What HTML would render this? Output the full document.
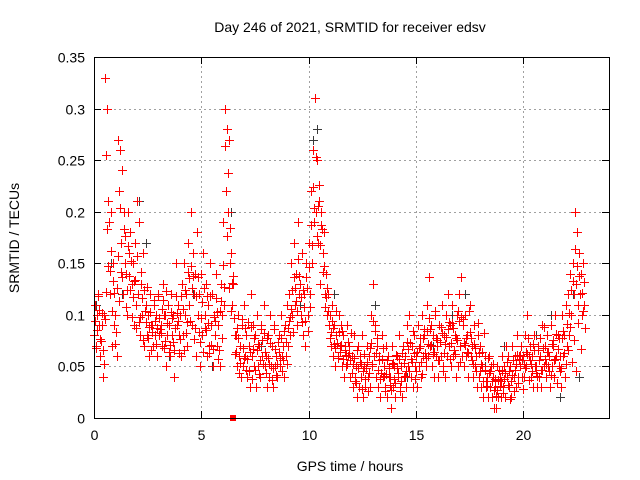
<!DOCTYPE html>
<html><head><meta charset="utf-8"><style>
body{margin:0;background:#fff;}
svg{display:block;font-family:"Liberation Sans",sans-serif;}
</style></head><body>
<svg id="chart" width="640" height="480" viewBox="0 0 640 480" xmlns="http://www.w3.org/2000/svg">
<text x="350" y="32" font-size="14" text-anchor="middle" fill="#000">Day 246 of 2021, SRMTID for receiver edsv</text>
<text x="350" y="471" font-size="14" text-anchor="middle" fill="#000">GPS time / hours</text>
<text x="19" y="238" font-size="14" text-anchor="middle" fill="#000" transform="rotate(-90 19 238)">SRMTID / TECUs</text>
<g id="grid"></g>
<g id="axes"></g>
<g id="marks" shape-rendering="crispEdges"></g>
<rect x="94.5" y="57.5" width="515" height="361" fill="none" stroke="#000" stroke-width="1"/>
</svg>
<script>
const xTicks=[0,5,10,15,20];
const yTicks=[0,0.05,0.1,0.15,0.2,0.25,0.3,0.35];
const yTickLabels=["0","0.05","0.1","0.15","0.2","0.25","0.3","0.35"];
const redT=[0.0,0.1,0.2,0.3,0.4,0.5,0.6,0.7,0.8,0.9,1.0,1.1,1.2,1.3,1.4,1.5,1.6,1.7,1.8,1.9,2.0,2.1,2.2,2.3,2.4,2.5,2.6,2.7,2.8,2.9,3.0,3.1,3.2,3.3,3.4,3.5,3.6,3.7,3.8,3.9,4.0,4.1,4.2,4.3,4.4,4.5,4.6,4.7,4.8,4.9,5.0,5.1,5.2,5.3,5.4,5.5,5.6,5.7,5.8,5.9,6.0,6.1,6.2,6.3,6.4,6.5,6.6,6.7,6.8,6.9,7.0,7.1,7.2,7.3,7.4,7.5,7.6,7.7,7.8,7.9,8.0,8.1,8.2,8.3,8.4,8.5,8.6,8.7,8.8,8.9,9.0,9.1,9.2,9.3,9.4,9.5,9.6,9.7,9.8,9.9,10.0,10.1,10.2,10.3,10.4,10.5,10.6,10.7,10.8,10.9,11.0,11.1,11.2,11.3,11.4,11.5,11.6,11.7,11.8,11.9,12.0,12.1,12.2,12.3,12.4,12.5,12.6,12.7,12.8,12.9,13.0,13.1,13.2,13.3,13.4,13.5,13.6,13.7,13.8,13.9,14.0,14.1,14.2,14.3,14.4,14.5,14.6,14.7,14.8,14.9,15.0,15.1,15.2,15.3,15.4,15.5,15.6,15.7,15.8,15.9,16.0,16.1,16.2,16.3,16.4,16.5,16.6,16.7,16.8,16.9,17.0,17.1,17.2,17.3,17.4,17.5,17.6,17.7,17.8,17.9,18.0,18.1,18.2,18.3,18.4,18.5,18.6,18.7,18.8,18.9,19.0,19.1,19.2,19.3,19.4,19.5,19.6,19.7,19.8,19.9,20.0,20.1,20.2,20.3,20.4,20.5,20.6,20.7,20.8,20.9,21.0,21.1,21.2,21.3,21.4,21.5,21.6,21.7,21.8,21.9,22.0,22.1,22.2,22.3,22.4,22.5,22.6,22.7,22.8];
const redA=[0.08,0.07,0.12,0.06,0.04,0.33,0.30,0.19,0.2,0.15,0.1,0.27,0.26,0.24,0.2,0.14,0.2,0.18,0.15,0.17,0.21,0.19,0.13,0.16,0.11,0.1,0.12,0.09,0.11,0.1,0.12,0.09,0.13,0.1,0.08,0.09,0.12,0.1,0.15,0.11,0.1,0.13,0.15,0.12,0.17,0.2,0.16,0.14,0.18,0.12,0.14,0.16,0.13,0.11,0.15,0.12,0.1,0.14,0.09,0.13,0.19,0.3,0.28,0.27,0.16,0.13,0.08,0.1,0.07,0.09,0.11,0.08,0.07,0.12,0.09,0.08,0.1,0.07,0.09,0.11,0.06,0.08,0.1,0.07,0.09,0.06,0.08,0.1,0.07,0.09,0.11,0.12,0.15,0.17,0.14,0.19,0.13,0.16,0.12,0.15,0.17,0.22,0.26,0.31,0.25,0.21,0.2,0.18,0.14,0.12,0.1,0.11,0.09,0.08,0.1,0.09,0.08,0.07,0.09,0.07,0.06,0.08,0.05,0.07,0.06,0.08,0.05,0.07,0.06,0.1,0.13,0.09,0.07,0.06,0.08,0.05,0.07,0.06,0.04,0.07,0.05,0.06,0.08,0.05,0.07,0.06,0.09,0.1,0.07,0.08,0.06,0.09,0.07,0.1,0.08,0.11,0.137,0.09,0.08,0.1,0.07,0.09,0.11,0.08,0.1,0.12,0.09,0.11,0.08,0.1,0.12,0.137,0.09,0.1,0.08,0.11,0.07,0.09,0.06,0.08,0.07,0.05,0.06,0.04,0.06,0.05,0.04,0.03,0.05,0.04,0.06,0.05,0.07,0.06,0.05,0.07,0.06,0.08,0.06,0.07,0.06,0.08,0.1,0.07,0.06,0.08,0.05,0.07,0.06,0.09,0.07,0.08,0.06,0.09,0.07,0.1,0.08,0.06,0.1,0.08,0.11,0.12,0.14,0.15,0.2,0.18,0.16,0.14,0.15];
const redB=[0.11,0.1,0.09,0.09,0.1,0.255,0.21,0.12,0.07,0.09,0.06,0.22,0.17,0.12,0.15,0.1,0.16,0.13,0.09,0.11,0.12,0.08,0.1,0.07,0.08,0.06,0.09,0.07,0.08,0.06,0.08,0.07,0.1,0.05,0.11,0.06,0.08,0.04,0.09,0.08,0.06,0.08,0.1,0.07,0.11,0.09,0.12,0.06,0.1,0.05,0.08,0.1,0.06,0.07,0.09,0.05,0.08,0.07,0.05,0.1,0.11,0.22,0.2,0.15,0.11,0.08,0.05,0.06,0.04,0.05,0.06,0.04,0.03,0.06,0.05,0.03,0.05,0.04,0.06,0.05,0.03,0.04,0.05,0.03,0.05,0.04,0.05,0.06,0.04,0.06,0.07,0.08,0.1,0.11,0.09,0.12,0.1,0.08,0.07,0.1,0.12,0.15,0.19,0.2,0.17,0.13,0.16,0.12,0.1,0.09,0.07,0.06,0.05,0.06,0.07,0.05,0.04,0.05,0.06,0.04,0.03,0.04,0.02,0.03,0.04,0.02,0.03,0.04,0.03,0.05,0.06,0.04,0.03,0.02,0.04,0.03,0.02,0.04,0.01,0.03,0.02,0.04,0.03,0.02,0.04,0.03,0.05,0.04,0.03,0.05,0.03,0.05,0.04,0.06,0.05,0.06,0.07,0.05,0.04,0.06,0.04,0.06,0.05,0.04,0.06,0.07,0.05,0.06,0.04,0.05,0.07,0.06,0.05,0.06,0.04,0.06,0.04,0.05,0.03,0.04,0.03,0.02,0.03,0.02,0.03,0.02,0.01,0.01,0.02,0.02,0.03,0.02,0.04,0.03,0.02,0.04,0.03,0.04,0.05,0.04,0.04,0.05,0.06,0.04,0.03,0.05,0.03,0.04,0.03,0.05,0.04,0.05,0.03,0.05,0.04,0.06,0.05,0.03,0.06,0.04,0.07,0.08,0.1,0.12,0.13,0.11,0.12,0.1,0.11];
const redC=[0.094,0.085,0.105,0.075,0.066,0.096,0.183,0.143,0.104,0.121,0.083,0.157,0.204,0.137,0.176,0.124,0.138,0.152,0.117,0.134,0.157,0.098,0.116,0.124,0.093,0.078,0.103,0.083,0.094,0.087,0.097,0.082,0.114,0.075,0.092,0.071,0.097,0.066,0.118,0.094,0.077,0.106,0.124,0.093,0.136,0.147,0.138,0.087,0.137,0.074,0.112,0.126,0.085,0.092,0.118,0.067,0.094,0.103,0.066,0.113,0.148,0.264,0.238,0.184,0.131,0.097,0.064,0.078,0.053,0.068,0.087,0.057,0.046,0.088,0.067,0.047,0.072,0.056,0.076,0.082,0.044,0.058,0.073,0.048,0.067,0.052,0.064,0.078,0.056,0.074,0.087,0.098,0.124,0.137,0.113,0.154,0.117,0.124,0.094,0.126,0.146,0.187,0.224,0.253,0.206,0.168,0.183,0.147,0.117,0.104,0.083,0.087,0.068,0.073,0.083,0.071,0.057,0.061,0.074,0.056,0.044,0.058,0.034,0.048,0.052,0.046,0.038,0.054,0.044,0.073,0.094,0.063,0.047,0.038,0.057,0.041,0.043,0.048,0.027,0.053,0.034,0.048,0.057,0.036,0.053,0.046,0.067,0.073,0.054,0.063,0.046,0.068,0.054,0.078,0.063,0.084,0.097,0.071,0.064,0.078,0.056,0.074,0.082,0.063,0.079,0.093,0.073,0.087,0.062,0.076,0.094,0.098,0.073,0.078,0.063,0.083,0.056,0.072,0.046,0.063,0.052,0.036,0.047,0.031,0.044,0.036,0.027,0.021,0.037,0.031,0.046,0.038,0.054,0.046,0.036,0.056,0.047,0.061,0.057,0.056,0.052,0.064,0.078,0.056,0.046,0.066,0.041,0.056,0.047,0.068,0.057,0.064,0.046,0.072,0.056,0.081,0.067,0.046,0.078,0.063,0.091,0.102,0.124,0.133,0.164,0.147,0.138,0.121,0.132];
const redD=[0.068,0.118,0.077,0.102,0.052,0.122,0.147,0.162,0.133,0.072,0.126,0.113,0.142,0.183,0.108,0.167,0.124,0.098,0.133,0.087,0.093,0.142,0.076,0.104,0.127,0.088,0.066,0.114,0.072,0.118,0.086,0.106,0.068,0.123,0.064,0.103,0.074,0.087,0.102,0.063,0.118,0.066,0.082,0.142,0.094,0.126,0.077,0.118,0.083,0.097,0.064,0.087,0.118,0.063,0.071,0.098,0.116,0.057,0.104,0.078,0.127,0.176,0.126,0.104,0.138,0.062,0.087,0.044,0.096,0.058,0.047,0.093,0.064,0.038,0.078,0.066,0.043,0.086,0.052,0.064,0.078,0.052,0.037,0.086,0.042,0.074,0.058,0.046,0.084,0.052,0.094,0.106,0.083,0.126,0.104,0.138,0.093,0.108,0.137,0.084,0.108,0.168,0.204,0.176,0.226,0.187,0.142,0.108,0.126,0.078,0.094,0.072,0.104,0.058,0.064,0.084,0.066,0.052,0.063,0.082,0.052,0.036,0.066,0.054,0.028,0.062,0.048,0.026,0.068,0.052,0.084,0.078,0.056,0.044,0.068,0.026,0.056,0.032,0.052,0.038,0.061,0.044,0.026,0.063,0.041,0.074,0.046,0.057,0.084,0.038,0.064,0.078,0.043,0.086,0.058,0.072,0.086,0.062,0.104,0.076,0.056,0.088,0.046,0.072,0.086,0.057,0.092,0.066,0.078,0.104,0.054,0.096,0.071,0.064,0.104,0.078,0.052,0.068,0.092,0.046,0.064,0.082,0.036,0.058,0.046,0.052,0.038,0.027,0.047,0.036,0.024,0.044,0.032,0.018,0.042,0.026,0.052,0.034,0.061,0.028,0.048,0.062,0.037,0.052,0.072,0.044,0.066,0.078,0.047,0.088,0.052,0.064,0.042,0.076,0.057,0.034,0.078,0.048,0.084,0.052,0.066,0.088,0.054,0.076,0.046,0.092,0.067,0.104,0.087,0.117,0.142,0.125,0.152,0.128,0.104,0.126];
const grayT=[0.1,0.8,1.3,2.1,2.4,3.5,4.6,5.5,6.4,7.8,8.9,9.6,10.2,10.4,11.2,12.5,13.1,14.6,15.1,15.8,16.7,17.3,18.2,19.1,20.6,21.3,21.7,22.3,22.6];
const grayV=[0.11,0.15,0.12,0.21,0.17,0.06,0.12,0.05,0.2,0.07,0.09,0.11,0.27,0.28,0.12,0.08,0.11,0.04,0.09,0.07,0.1,0.12,0.05,0.07,0.08,0.1,0.02,0.12,0.04];
const specialT=[6.5];
const specialV=[0];

const X0=94,X1=609,Y0=418,Y1=57,XMAX=24,YMAX=0.35;
function xs(t){return X0+(X1-X0)*t/XMAX;}
function ys(v){return Y0-(Y0-Y1)*v/YMAX;}
const NS='http://www.w3.org/2000/svg';
function mk(tag,attrs,parent){const e=document.createElementNS(NS,tag);for(const k in attrs)e.setAttribute(k,attrs[k]);parent.appendChild(e);return e;}
const grid=document.getElementById('grid'),axes=document.getElementById('axes'),marks=document.getElementById('marks');
yTicks.forEach((v,i)=>{
  const y=Math.round(ys(v))+0.5;
  if(i>0&&i<yTicks.length-1){const g=mk('line',{x1:X0,x2:X1,y1:y,y2:y,stroke:'#a0a0a0','stroke-dasharray':'2,3'},grid);
  
  }
  mk('line',{x1:X0,x2:X0+7,y1:y,y2:y,stroke:'#000'},axes);
  mk('line',{x1:X1-7,x2:X1,y1:y,y2:y,stroke:'#000'},axes);
  const t=mk('text',{x:X0-9,y:y+5,'font-size':14,'text-anchor':'end',fill:'#000'},axes);
  t.textContent=yTickLabels[i];
  
  
});
xTicks.forEach(v=>{
  const x=Math.round(xs(v))+0.5;
  if(v>0){const g=mk('line',{x1:x,x2:x,y1:Y0,y2:Y1,stroke:'#a0a0a0','stroke-dasharray':'2,3'},grid);
  
  }
  mk('line',{x1:x,x2:x,y1:Y0,y2:Y0-7,stroke:'#000'},axes);
  mk('line',{x1:x,x2:x,y1:Y1,y2:Y1+7,stroke:'#000'},axes);
  const t=mk('text',{x:x,y:Y0+22,'font-size':14,'text-anchor':'middle',fill:'#000'},axes);
  t.textContent=String(v);
  
  
});
function plus(t,v,color,name){
  const x=Math.round(xs(t)),y=Math.round(ys(v));
  const p=mk('path',{d:`M${x-4} ${y}h9v1h-9zM${x} ${y-4}h1v9h-1z`,fill:color},marks);
  
  
}
grayT.forEach((t,i)=>plus(t,grayV[i],'#3a3a3a','gray-point'));
redT.forEach((t,i)=>{
  plus(t,redA[i],'#ff0000','red-point');
  plus(t+0.05,redB[i],'#ff0000','red-point');
  plus(t+0.025,redC[i],'#ff0000','red-point');
  plus(t+0.075,redD[i],'#ff0000','red-point');
});
specialT.forEach((t,i)=>{
  const r=mk('rect',{x:Math.round(xs(t))-3,y:Math.round(ys(specialV[i]))-3,width:6,height:6,fill:'#ff0000'},marks);
  
  
});
</script>
</body></html>
